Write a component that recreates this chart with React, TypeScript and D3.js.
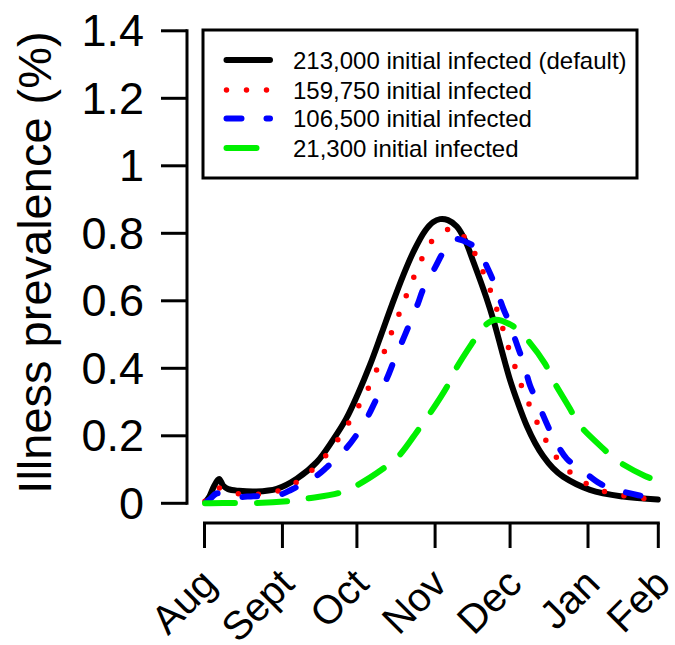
import React from "react";
import { scaleLinear, line, curveCatmullRom } from "d3";

// days since Aug 1
const monthLabels = ["Aug", "Sept", "Oct", "Nov", "Dec", "Jan", "Feb"];
const monthDays = [0, 31.6, 61.8, 93.5, 123.9, 155.5, 184];

const yTicks = [0, 0.2, 0.4, 0.6, 0.8, 1, 1.2, 1.4];
const yTickLabels = ["0", "0.2", "0.4", "0.6", "0.8", "1", "1.2", "1.4"];

const seriesNames = [
  "213,000 initial infected (default)",
  "159,750 initial infected",
  "106,500 initial infected",
  "21,300 initial infected",
];

const blackDays = [0.5, 2, 3.8, 5.9, 7.6, 9.6, 14, 21, 29.3, 37.4, 45.5, 52.1, 57.4, 62.2, 67.1, 71.6, 76, 80.5, 84.9, 89.4, 92.7, 95.5, 98.7, 102.3, 105.6, 108.9, 114.2, 117.4, 120.7, 123.9, 127.1, 130.7, 134.1, 137.3, 141.3, 145.4, 156.3, 169.7, 183.8];
const blackVals = [0.005, 0.02, 0.05, 0.072, 0.052, 0.042, 0.037, 0.035, 0.043, 0.073, 0.122, 0.188, 0.25, 0.324, 0.41, 0.499, 0.588, 0.674, 0.748, 0.807, 0.833, 0.842, 0.839, 0.82, 0.78, 0.718, 0.611, 0.537, 0.448, 0.365, 0.297, 0.229, 0.178, 0.14, 0.104, 0.079, 0.04, 0.02, 0.011];

const redDays = [0.2, 3, 5.6, 10.1, 18.2, 26.3, 34.3, 41.2, 47.2, 52.5, 57, 61.3, 65.4, 68.9, 72.3, 75.2, 78.3, 81.3, 84.4, 87.8, 91.4, 98.2, 101.6, 105.2, 109.7, 113.1, 116.2, 121.2, 123.6, 126.3, 129, 132.3, 135.6, 139.4, 144.2, 150.2, 157, 165.1, 173.2, 183.5];
const redVals = [0.006, 0.024, 0.045, 0.032, 0.027, 0.03, 0.05, 0.083, 0.125, 0.172, 0.221, 0.273, 0.326, 0.381, 0.438, 0.494, 0.55, 0.606, 0.662, 0.719, 0.77, 0.81, 0.814, 0.79, 0.739, 0.683, 0.625, 0.512, 0.453, 0.396, 0.339, 0.282, 0.228, 0.174, 0.122, 0.081, 0.05, 0.029, 0.019, 0.009];

const blueDays = [0.6, 2.6, 4.9, 13.1, 19.8, 29.9, 35.4, 44.8, 49.6, 57, 61, 66.4, 69.1, 73.9, 76.6, 80, 82.6, 86.5, 88.7, 93.5, 96.8, 100.8, 104.9, 110.4, 115.1, 117.8, 121.2, 123.2, 127.3, 129.3, 132, 134.7, 138.8, 141.4, 146.9, 151.6, 160.4, 166.5, 175.9, 183.4];
const blueVals = [0.003, 0.015, 0.029, 0.019, 0.021, 0.024, 0.041, 0.078, 0.107, 0.159, 0.196, 0.26, 0.3, 0.369, 0.418, 0.477, 0.522, 0.591, 0.635, 0.699, 0.744, 0.782, 0.778, 0.754, 0.692, 0.645, 0.576, 0.542, 0.458, 0.418, 0.349, 0.305, 0.236, 0.196, 0.132, 0.107, 0.058, 0.041, 0.024, 0.014];

const greenDays = [0.2, 7.6, 21.2, 34.7, 41.4, 54.3, 61.7, 72.5, 78.6, 86.7, 90.8, 98.2, 101.6, 108.4, 113.1, 117.8, 124.6, 130, 138.1, 141.4, 148.2, 151.6, 161.7, 167.2, 178.6, 183.5];
const greenVals = [0, 0.001, 0.001, 0.007, 0.014, 0.03, 0.053, 0.103, 0.139, 0.218, 0.26, 0.344, 0.394, 0.473, 0.522, 0.544, 0.527, 0.492, 0.413, 0.364, 0.28, 0.236, 0.162, 0.127, 0.081, 0.068];

const seriesDays = [blackDays, redDays, blueDays, greenDays];
const seriesVals = [blackVals, redVals, blueVals, greenVals];
const seriesColors = ["#000000", "#ff0000", "#0000ff", "#00f000"];
const seriesDash = [null, "0 20", "15 25", "30 22"];
const seriesWidth = [6, 5.5, 6, 6];

const font = "'Liberation Sans', Arial, Helvetica, sans-serif";

const App = () => {
  const width = 675;
  const height = 645;

  const xScale = scaleLinear().domain([0, 184]).range([204.5, 658.3]);
  const yScale = scaleLinear().domain([0, 1.4]).range([503.3, 30.8]);

  const axisX = 187;
  const axisY = 523;

  const lineGen = line<[number, number]>()
    .x((d) => xScale(d[0]))
    .y((d) => yScale(d[1]))
    .curve(curveCatmullRom.alpha(0.5));

  const rowY = [60, 90, 118.5, 148];

  return (
    <svg width={width} height={height} style={{ position: "absolute", left: 0, top: 0 }} fontFamily={font}>
      <rect width={width} height={height} fill="#fff" />

      {/* y axis */}
      <line x1={axisX} x2={axisX} y1={yScale(1.4)} y2={yScale(0)} stroke="#000" strokeWidth={3} strokeLinecap="square" />
      {yTicks.map((t, i) => (
        <g key={t}>
          <line x1={161} x2={axisX} y1={yScale(t)} y2={yScale(t)} stroke="#000" strokeWidth={3} />
          <text x={144} y={yScale(t)} textAnchor="end" dominantBaseline="central" fontSize={45}>
            {yTickLabels[i]}
          </text>
        </g>
      ))}
      <text transform="translate(51,262.5) rotate(-90)" textAnchor="middle" fontSize={47}>
        Illness prevalence (%)
      </text>

      {/* x axis */}
      <line x1={xScale(0)} x2={xScale(184)} y1={axisY} y2={axisY} stroke="#000" strokeWidth={3} strokeLinecap="square" />
      {monthDays.map((d, i) => (
        <g key={monthLabels[i]}>
          <line x1={xScale(d)} x2={xScale(d)} y1={axisY} y2={548} stroke="#000" strokeWidth={3} />
          <text
            transform={`translate(${xScale(d) + 4},576) rotate(-45)`}
            textAnchor="end"
            dominantBaseline="central"
            fontSize={40}
          >
            {monthLabels[i]}
          </text>
        </g>
      ))}

      {/* curves */}
      {seriesDays.map((days, i) => (
        <path
          key={seriesNames[i]}
          d={lineGen(days.map((d, j) => [d, seriesVals[i][j]] as [number, number])) || ""}
          fill="none"
          stroke={seriesColors[i]}
          strokeWidth={seriesWidth[i]}
          strokeDasharray={seriesDash[i] || undefined}
          strokeLinecap="round"
          strokeLinejoin="round"
        />
      ))}

      {/* legend */}
      <rect x={203} y={30} width={434} height={148} fill="#fff" stroke="#000" strokeWidth={3} />
      {seriesNames.map((name, i) => (
        <g key={name}>
          <line
            x1={226.5}
            x2={270}
            y1={rowY[i]}
            y2={rowY[i]}
            stroke={seriesColors[i]}
            strokeWidth={seriesWidth[i]}
            strokeDasharray={seriesDash[i] || undefined}
            strokeLinecap="round"
          />
          <text x={293} y={rowY[i]} dominantBaseline="central" fontSize={24}>
            {name}
          </text>
        </g>
      ))}
    </svg>
  );
};

export default App;
